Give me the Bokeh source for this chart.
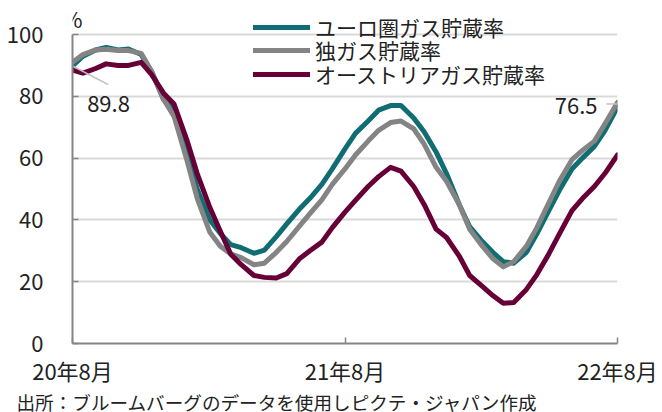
from datetime import datetime
from bokeh.plotting import figure
from bokeh.models import Range1d, Label, FixedTicker, Legend, LegendItem, Title
from bokeh.embed import file_html
from bokeh.resources import INLINE

# semi-monthly observation dates, Aug 2020 - Aug 2022
dates = []
for y in (2020, 2021, 2022):
    for m in range(1, 13):
        for d in (1, 15):
            dt = datetime(y, m, d)
            if datetime(2020, 8, 1) <= dt <= datetime(2022, 8, 1):
                dates.append(dt)

euro = [89.8, 93.0, 95.0, 95.8, 95.0, 95.3, 93.5, 88.0, 79.0, 75.5, 62.0, 50.0,
        40.0, 35.6, 32.0, 31.0, 29.2, 30.2, 34.6, 38.7, 43.5, 47.0, 51.5, 56.5,
        63.0, 68.0, 72.0, 75.5, 77.0, 77.0, 73.0, 68.5, 62.0, 55.0, 45.0, 37.8,
        33.0, 29.5, 26.5, 26.0, 29.5, 35.5, 43.0, 49.5, 56.5, 60.0, 63.8, 68.8, 76.5]
germany = [91.0, 93.5, 95.0, 95.2, 94.8, 94.8, 93.9, 88.0, 79.0, 73.5, 59.5, 47.0,
           36.0, 31.5, 29.0, 27.8, 25.5, 26.0, 29.5, 33.0, 38.0, 42.0, 46.5, 51.5,
           56.5, 61.0, 65.5, 69.0, 71.5, 72.0, 69.5, 64.5, 57.0, 52.5, 45.0, 37.0,
           31.5, 27.5, 24.8, 26.5, 31.5, 37.5, 45.5, 52.5, 59.5, 62.5, 65.5, 71.0, 78.0]
austria = [88.5, 87.5, 89.0, 90.5, 90.0, 90.0, 91.0, 87.0, 81.0, 77.5, 66.0, 55.0,
           44.0, 36.3, 28.9, 25.5, 22.0, 21.4, 21.2, 22.6, 27.4, 30.0, 32.8, 37.5,
           42.5, 46.3, 50.8, 54.0, 57.0, 55.8, 50.8, 45.0, 37.0, 34.3, 28.3, 22.0,
           18.5, 15.5, 13.0, 13.3, 17.5, 22.3, 29.0, 35.4, 43.0, 46.9, 50.8, 55.0, 61.0]

series_names = ["ユーロ圏ガス貯蔵率", "独ガス貯蔵率", "オーストリアガス貯蔵率"]
series_colors = ["#106E73", "#848484", "#660036"]

x_tick_dates = [datetime(2020, 8, 1), datetime(2021, 8, 1), datetime(2022, 8, 1)]
x_tick_labels = ["20年8月", "21年8月", "22年8月"]
y_ticks = [0, 20, 40, 60, 80, 100]
source_text = "出所：ブルームバーグのデータを使用しピクテ・ジャパン作成"

FONT = "Noto Sans CJK JP"
TXT = "#222222"

def ms(dt):
    return (dt - datetime(1970, 1, 1)).total_seconds() * 1000.0

# frame reaches the top of the canvas so that the legend and "%" are not clipped;
# 100 % sits 34 px below the top, 0 % at 343 px
Y_TOP = 100 * 343 / 309

p = figure(width=662, height=412, x_axis_type="datetime",
           x_range=Range1d(ms(x_tick_dates[0]), ms(x_tick_dates[-1])),
           y_range=Range1d(0, Y_TOP),
           output_backend="svg", toolbar_location=None,
           min_border_left=72, min_border_right=45,
           min_border_top=0, min_border_bottom=69)
p.outline_line_color = None
p.background_fill_color = "white"
p.xgrid.grid_line_color = None
p.ygrid.grid_line_color = "#D9D9D9"
p.ygrid.grid_line_width = 2

tick_ms = [ms(d) for d in x_tick_dates]
p.xaxis.ticker = FixedTicker(ticks=tick_ms)
p.xaxis.major_label_overrides = {t: l for t, l in zip(tick_ms, x_tick_labels)}
p.yaxis.ticker = FixedTicker(ticks=y_ticks)
p.yaxis.bounds = (0, 100)
for ax in (p.xaxis, p.yaxis):
    ax.axis_line_color = "#868686"
    ax.axis_line_width = 2
    ax.major_tick_line_color = "#868686"
    ax.major_tick_line_width = 1.5
    ax.major_tick_in = 6
    ax.major_tick_out = 0
    ax.minor_tick_line_color = None
    ax.major_label_text_font = FONT
    ax.major_label_text_font_size = "22px"
    ax.major_label_text_color = TXT
p.xaxis.major_label_standoff = 10
p.yaxis.major_label_standoff = 29

row_centers = [28, 51, 75]
for vals, name, col, rc in zip([euro, germany, austria], series_names, series_colors, row_centers):
    r = p.line(dates, vals, line_width=5, line_color=col, line_join="round", line_cap="round")
    lg = Legend(items=[LegendItem(label=name, renderers=[r])],
                location=(181, 343 - rc - 14), orientation="vertical",
                padding=0, margin=0, spacing=0, glyph_width=57, glyph_height=28,
                label_height=28, label_standoff=5,
                label_text_font=FONT, label_text_font_size="21px", label_text_color=TXT,
                background_fill_alpha=0, border_line_alpha=0)
    p.add_layout(lg, "center")

x0 = ms(dates[0])
x1 = ms(dates[-1])
day = 86400000.0

# leader lines for start/end values
p.segment(x0=[x0, x1 - 15 * day], y0=[euro[0], euro[-1] + 1.0],
          x1=[x0 + 48 * day, x1], y1=[euro[0] - 6.0, euro[-1] + 1.0],
          line_color="#BFBFBF", line_width=1.5)
p.add_layout(Label(x=x0, y=euro[0], x_offset=36, y_offset=-38, text=f"{euro[0]:.1f}",
                   text_align="center", text_baseline="middle", text_font=FONT,
                   text_font_size="22px", text_color=TXT))
p.add_layout(Label(x=x1, y=euro[-1], x_offset=-20, y_offset=1, text=f"{euro[-1]:.1f}",
                   text_align="right", text_baseline="middle", text_font=FONT,
                   text_font_size="22px", text_color=TXT))
p.add_layout(Label(x=x0, y=100, y_offset=17, text="%", text_align="center",
                   text_baseline="middle", text_font=FONT, text_font_size="22px",
                   text_color=TXT))

src = Title(text=source_text, align="left", offset=-56, standoff=-6,
            text_font=FONT, text_font_size="18.6px", text_font_style="normal",
            text_color=TXT)
p.add_layout(src, "below")

open("out.html", "w").write(file_html(p, INLINE))
